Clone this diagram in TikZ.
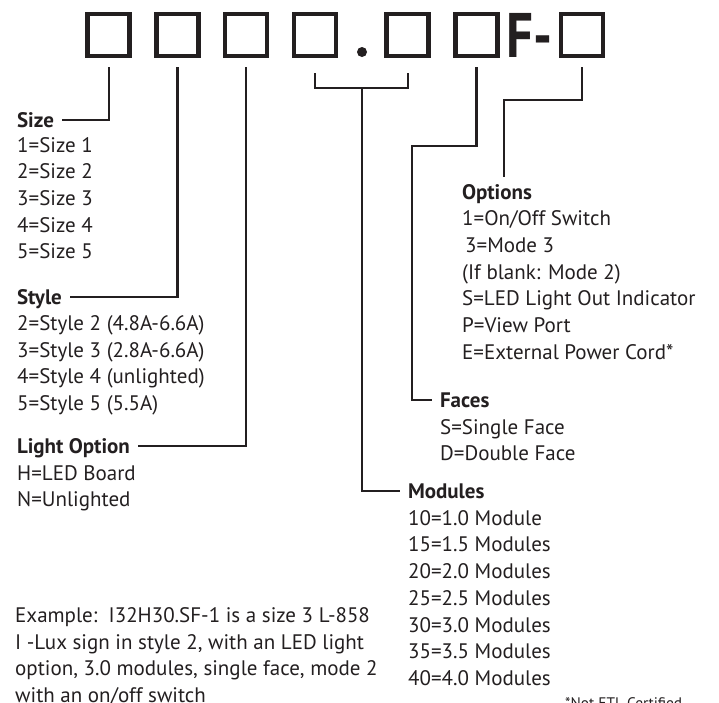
\documentclass[tikz,border=0pt]{standalone}
\usepackage{fontspec}
\setmainfont{PT Sans}
\usetikzlibrary{positioning}
\definecolor{ink}{RGB}{35,31,32}
\tikzset{
  digit/.style={draw=ink, line width=4.6pt, minimum size=42pt, inner sep=0pt, outer sep=2.3pt},
  heading/.style={anchor=base west, inner sep=0pt, outer sep=8pt, text height=14.5pt,
                  text depth=0pt, text=ink, font=\bfseries\fontsize{21}{26.7}\selectfont},
  entries/.style={anchor=base west, inner sep=0pt, align=left, text=ink,
                  font=\fontsize{21}{26.7}\selectfont},
  link/.style={draw=ink, line width=2.3pt},
}
\begin{document}
\begin{tikzpicture}[x=1pt, y=1pt]
  \useasboundingbox (0,0) rectangle (719,-702);
  % code boxes
  \node[digit] (b1) at (108.7,-35) {};
  \node[digit] (b2) at (177.4,-35) {};
  \node[digit] (b3) at (246.1,-35) {};
  \node[digit] (b4) at (314.8,-35) {};
  \node[circle, fill=ink, minimum size=10pt, inner sep=0pt] (dot) at (362,-52) {};
  \node[digit] (b5) at (407.7,-35) {};
  \node[digit] (b6) at (476.4,-35) {};
  \node[anchor=base west, inner sep=0pt, text=ink, font=\bfseries\fontsize{63}{63}\selectfont]
    (fdash) at (506,-57) {\scalebox{0.84}[1]{F-}};
  \node[digit] (b7) at (582,-35) {};
  % left column (base anchor sits on the last line)
  \node[heading] (size) at (9,-127.5) {Size};
  \node[entries] (sizes) at (17,-258.8) {1=Size 1\\2=Size 2\\3=Size 3\\4=Size 4\\5=Size 5};
  \node[heading] (style) at (9,-304.5) {Style};
  \node[entries] (styles) at (17,-410.6)
    {2=Style 2 (4.8A-6.6A)\\3=Style 3 (2.8A-6.6A)\\4=Style 4 (unlighted)\\5=Style 5 (5.5A)};
  \node[heading] (light) at (9,-453.5) {Light Option};
  \node[entries] (lights) at (17,-506.7) {H=LED Board\\N=Unlighted};
  % right column
  \node[heading] (options) at (454,-199) {Options};
  \node[entries] (optlist) at (462,-359.2)
    {1=On/Off Switch\\\hspace{3pt}3=Mode 3\\(If blank: Mode 2)\\S=LED Light Out Indicator\\P=View Port\\E=External Power Cord*};
  \node[heading] (faces) at (432,-407.5) {Faces};
  \node[entries] (facelist) at (440,-460.9) {S=Single Face\\D=Double Face};
  \node[heading] (modules) at (400,-498.5) {Modules};
  \node[entries] (modlist) at (408,-685.4)
    {10=1.0 Module\\15=1.5 Modules\\20=2.0 Modules\\25=2.5 Modules\\30=3.0 Modules\\35=3.5 Modules\\40=4.0 Modules};
  \node[entries, font=\fontsize{15.3}{18}\selectfont] (note) at (565,-708) {*Not ETL Certified};
  \node[entries] (example) at (15,-702.6)
    {Example:\ \ I32H30.SF-1 is a size 3 L-858\\I -Lux sign in style 2, with an LED light\\option, 3.0 modules, single face, mode 2\\with an on/off switch};
  % connectors
  \draw[link] ([yshift=-9pt]b1.south) |- (size.east);
  \draw[link] ([yshift=-9pt]b2.south) |- (style.east);
  \draw[link] ([yshift=-9pt]b3.south) |- (light.east);
  \draw[link] ([yshift=-15pt]b4.south) -- ([yshift=-30pt]b4.south)
    -- ([yshift=-30pt]b5.south) -- ([yshift=-15pt]b5.south);
  \draw[link] ([yshift=-36pt]dot.center) |- (modules.west);
  \coordinate (facebend) at (412,-146);
  \draw[link] ([yshift=-9pt]b6.south) |- (facebend) |- (faces.west);
  \draw[link] ([yshift=-9pt]b7.south) -- ++(0,-33) -| ([xshift=7pt]options.north);
\end{tikzpicture}
\end{document}
